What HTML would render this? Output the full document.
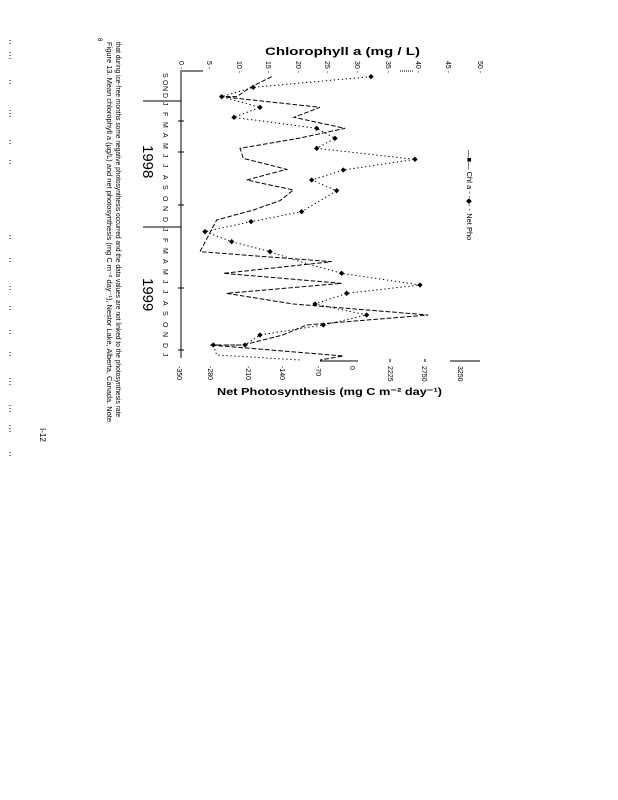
<!DOCTYPE html>
<html><head><meta charset="utf-8"><style>
html,body{margin:0;padding:0;background:#fff;}
svg{display:block;font-family:"Liberation Sans",sans-serif;}
</style></head><body>
<svg width="618" height="800" viewBox="0 0 618 800" xmlns="http://www.w3.org/2000/svg">
<rect width="618" height="800" fill="#fff"/>
<!-- left edge specks -->
<g stroke="#000" stroke-width="1" stroke-dasharray="1,2">
<line x1="10" y1="40" x2="10" y2="46"/><line x1="10" y1="52" x2="10" y2="60"/>
<line x1="10" y1="80" x2="10" y2="86"/><line x1="10" y1="110" x2="10" y2="118"/>
<line x1="10" y1="140" x2="10" y2="146"/><line x1="10" y1="160" x2="10" y2="166"/>
<line x1="10" y1="235" x2="10" y2="239"/><line x1="10" y1="258" x2="10" y2="262"/>
<line x1="10" y1="286" x2="10" y2="292"/><line x1="10" y1="306" x2="10" y2="312"/>
<line x1="10" y1="330" x2="10" y2="334"/><line x1="10" y1="352" x2="10" y2="356"/>
<line x1="10" y1="378" x2="10" y2="386"/><line x1="10" y1="405" x2="10" y2="412"/>
<line x1="10" y1="425" x2="10" y2="432"/><line x1="10" y1="452" x2="10" y2="458"/>
</g>
<text transform="translate(40,428) rotate(90)" font-size="8">I-12</text>
<!-- caption -->
<text transform="translate(107,42) rotate(90)" font-size="7.5" textLength="380" lengthAdjust="spacingAndGlyphs">Figure 13. Mean chlorophyll a (µg/L) and net photosynthesis (mg C m⁻² day⁻¹), Nestor Lake, Alberta, Canada. Note</text>
<text transform="translate(116,42) rotate(90)" font-size="7.5" textLength="375" lengthAdjust="spacingAndGlyphs">that during ice-free months some negative photosynthesis occurred and the data values are not linked to the photosynthesis rate</text>
<text transform="translate(98,38) rotate(90)" font-size="6">8</text>
<!-- year labels -->
<text transform="translate(143,145) rotate(90)" font-size="15">1998</text>
<text transform="translate(143,278) rotate(90)" font-size="15">1999</text>
<g font-size="7" >
<text transform="translate(163,73) rotate(90)">S</text>
<text transform="translate(163,80) rotate(90)">O</text>
<text transform="translate(163,86) rotate(90)">N</text>
<text transform="translate(163,93) rotate(90)">D</text>
<text transform="translate(163,102) rotate(90)">J</text>
<text transform="translate(163,112) rotate(90)">F</text>
<text transform="translate(163,122) rotate(90)">M</text>
<text transform="translate(163,133) rotate(90)">A</text>
<text transform="translate(163,143) rotate(90)">M</text>
<text transform="translate(163,154) rotate(90)">J</text>
<text transform="translate(163,164) rotate(90)">J</text>
<text transform="translate(163,175) rotate(90)">A</text>
<text transform="translate(163,185) rotate(90)">S</text>
<text transform="translate(163,196) rotate(90)">O</text>
<text transform="translate(163,206) rotate(90)">N</text>
<text transform="translate(163,217) rotate(90)">D</text>
<text transform="translate(163,228) rotate(90)">J</text>
<text transform="translate(163,238) rotate(90)">F</text>
<text transform="translate(163,248) rotate(90)">M</text>
<text transform="translate(163,259) rotate(90)">A</text>
<text transform="translate(163,269) rotate(90)">M</text>
<text transform="translate(163,280) rotate(90)">J</text>
<text transform="translate(163,290) rotate(90)">J</text>
<text transform="translate(163,301) rotate(90)">A</text>
<text transform="translate(163,311) rotate(90)">S</text>
<text transform="translate(163,322) rotate(90)">O</text>
<text transform="translate(163,332) rotate(90)">N</text>
<text transform="translate(163,343) rotate(90)">D</text>
<text transform="translate(163,353) rotate(90)">J</text>
</g>
<!-- year divider lines -->
<g stroke="#000" stroke-width="1">
<line x1="143" y1="101" x2="181" y2="101"/>
<line x1="143" y1="227" x2="181" y2="227"/>
<line x1="181" y1="70" x2="181" y2="358"/>
<line x1="178" y1="121" x2="184" y2="121"/>
<line x1="178" y1="152" x2="184" y2="152"/>
<line x1="178" y1="205" x2="184" y2="205"/>
<line x1="178" y1="288" x2="184" y2="288"/>
<line x1="178" y1="350" x2="184" y2="350"/>
</g>
<!-- top axis title & ticks -->
<text x="265" y="55" font-size="11" font-weight="bold" textLength="155" lengthAdjust="spacingAndGlyphs">Chlorophyll a (mg / L)</text>
<g font-size="7">
<text transform="translate(179,61) rotate(90)">0 -</text>
<text transform="translate(207,61) rotate(90)">5 -</text>
<text transform="translate(237,61) rotate(90)">10 -</text>
<text transform="translate(266,61) rotate(90)">15 -</text>
<text transform="translate(296,61) rotate(90)">20 -</text>
<text transform="translate(325,61) rotate(90)">25 -</text>
<text transform="translate(355,61) rotate(90)">30 -</text>
<text transform="translate(386,61) rotate(90)">35 -</text>
<text transform="translate(416,61) rotate(90)">40 -</text>
<text transform="translate(446,61) rotate(90)">45 -</text>
<text transform="translate(478,61) rotate(90)">50 -</text>
</g>
<line x1="182" y1="71" x2="203" y2="71" stroke="#000"/>
<line x1="400" y1="71" x2="413" y2="71" stroke="#000" stroke-dasharray="1,1"/>
<!-- bottom axis -->
<g font-size="7">
<text transform="translate(177,366) rotate(90)">-350</text>
<text transform="translate(208,366) rotate(90)">-280</text>
<text transform="translate(246,366) rotate(90)">-210</text>
<text transform="translate(280,366) rotate(90)">-140</text>
<text transform="translate(316,366) rotate(90)">-70</text>
<text transform="translate(350,366) rotate(90)">0</text>
<text transform="translate(388,366) rotate(90)">2225</text>
<text transform="translate(422,366) rotate(90)">2750</text>
<text transform="translate(458,366) rotate(90)">3250</text>
</g>
<text x="217" y="395" font-size="10" font-weight="bold" textLength="225" lengthAdjust="spacingAndGlyphs">Net Photosynthesis (mg C m⁻² day⁻¹)</text>
<g stroke="#000"><line x1="320" y1="361" x2="358" y2="361"/><line x1="450" y1="361" x2="480" y2="361"/><line x1="390" y1="359" x2="390" y2="362"/><line x1="425" y1="359" x2="425" y2="362"/></g>
<!-- legend -->
<text transform="translate(467,150) rotate(90)" font-size="7.5">—■— Chl a - -◆- - Net Pho</text>
<!-- data (zoom coords) -->
<g transform="translate(90 30) scale(0.33333)" fill="none" stroke="#000" stroke-width="3">
<polyline stroke-dasharray="14,6" points="545,140 485,170 440,200 395,200 690,232 612,262 765,295 625,325 450,355 460,385 590,418 470,450 610,480 570,512 490,540 380,570 330,665 725,695 400,730 755,760 410,790 610,822 1015,855 650,885 578,915 460,945 360,945 760,978 690,990"/>
<polyline stroke-dasharray="4,8" points="843,140 490,172 395,200 510,232 432,262 680,295 735,325 680,355 975,388 760,420 665,450 740,482 635,545 483,575 345,605 425,635 540,665 630,695 755,730 990,765 770,790 675,822 830,855 700,885 510,915 465,945 370,945 380,975 630,990"/>
<g fill="#000" stroke="none">
<path d="M843,132 l8,8 -8,8 -8,-8z M490,164 l8,8 -8,8 -8,-8z M395,192 l8,8 -8,8 -8,-8z M510,224 l8,8 -8,8 -8,-8z M432,254 l8,8 -8,8 -8,-8z M680,287 l8,8 -8,8 -8,-8z M735,317 l8,8 -8,8 -8,-8z M680,347 l8,8 -8,8 -8,-8z M975,380 l8,8 -8,8 -8,-8z M760,412 l8,8 -8,8 -8,-8z M665,442 l8,8 -8,8 -8,-8z M740,474 l8,8 -8,8 -8,-8z M635,537 l8,8 -8,8 -8,-8z M483,567 l8,8 -8,8 -8,-8z M345,597 l8,8 -8,8 -8,-8z M425,627 l8,8 -8,8 -8,-8z M540,657 l8,8 -8,8 -8,-8z M755,722 l8,8 -8,8 -8,-8z M990,757 l8,8 -8,8 -8,-8z M770,782 l8,8 -8,8 -8,-8z M675,814 l8,8 -8,8 -8,-8z M830,847 l8,8 -8,8 -8,-8z M700,877 l8,8 -8,8 -8,-8z M510,907 l8,8 -8,8 -8,-8z M465,937 l8,8 -8,8 -8,-8z M370,937 l8,8 -8,8 -8,-8z"/>
</g>
</g>
</svg>
</body></html>
